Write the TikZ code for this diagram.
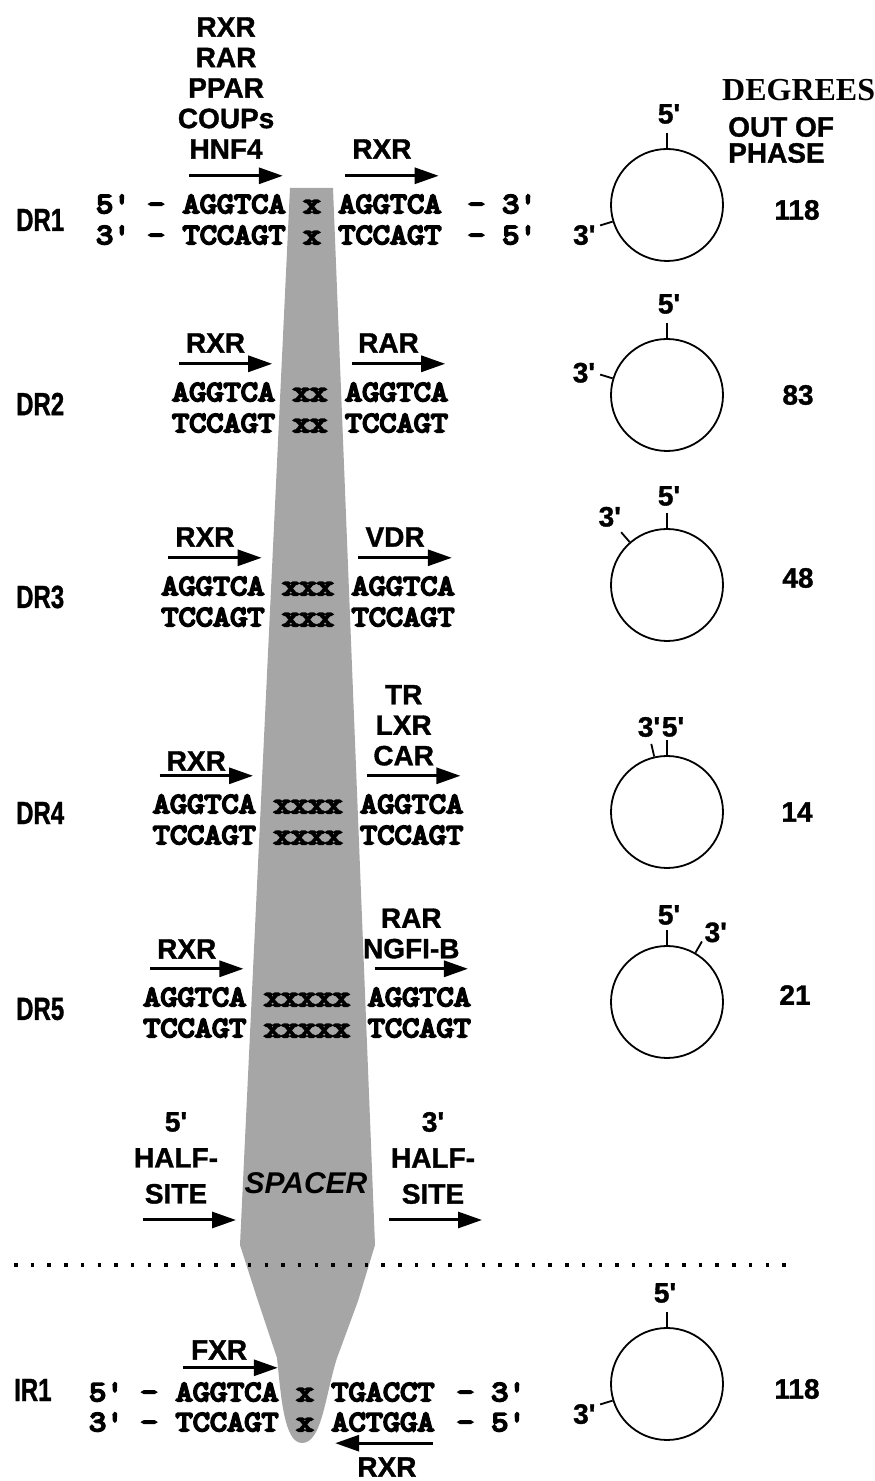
\documentclass[tikz,border=0pt]{standalone}
\usepackage{fontspec}
\usepackage{graphicx}
\usepackage{tikz}
\usetikzlibrary{arrows.meta,positioning}
\newfontfamily\labelfamily{Liberation Sans}[BoldFeatures={FakeBold=1.2}]
\newfontfamily\seqfamily{Latin Modern Mono}[FakeStretch=1.15,FakeBold=7]
\newfontfamily\degfamily{Liberation Serif}
\definecolor{spacergray}{HTML}{A6A6A6}
\newcommand{\labeltext}{\fontsize{28}{30.5}\selectfont\labelfamily\bfseries}
\newcommand{\halftext}{\fontsize{28}{36}\selectfont\labelfamily\bfseries}
\newcommand{\spacertext}{\fontsize{30}{32}\selectfont\labelfamily\bfseries\itshape}
\newcommand{\seqtext}{\fontsize{29}{31}\selectfont\seqfamily}
\newcommand{\rowtext}{\fontsize{32}{34}\selectfont\labelfamily\bfseries}
\newcommand{\degtext}{\fontsize{32}{34}\selectfont\degfamily\bfseries}

\begin{document}
\begin{tikzpicture}[x=1pt,y=1pt,
    seq/.style={font=\seqtext,inner sep=0pt,text height=16pt,text depth=0pt},
    lbl/.style={font=\labeltext,inner sep=0pt,align=center},
    rowname/.style={font=\rowtext,inner sep=0pt,anchor=west},
    halfarrow/.style={-{Triangle[length=24pt,width=16pt]},line width=3pt},
    ring/.style={circle,draw,line width=1.8pt,minimum size=112pt,inner sep=0pt},
    tickline/.style={line width=1.8pt}]
\useasboundingbox (0,0) rectangle (875,1481);

% spacer band and divider
\fill[spacergray] (290,1293) -- (333,1293) -- (375,236) -- (358,180) -- (337,123)
  .. controls (325,85) and (322,38) .. (302,38) .. controls (284,38) and (281,85) .. (277,123)
  -- (258,180) -- (240,236) -- cycle;
\draw[line width=3.5pt,dash pattern=on 3.5pt off 13.2pt] (14,216) -- (790,216);

% header
\node[font=\degtext,inner sep=0pt,anchor=west] (hd1) at (722,1391) {DEGREES};
\node[lbl,anchor=west] (hd2) at (728,1354) {OUT OF};
\node[lbl,anchor=west] (hd3) at (728,1328) {PHASE};

% DR1
\node[seq] (sp1) at (312,1276) {x};
\node[seq,left=17.4pt of sp1] (hl1) {AGGTCA};
\node[seq,right=17.4pt of sp1] (hr1) {AGGTCA};
\node[seq,left=17.4pt of hl1] (el1) {5' -};
\node[seq,right=26pt of hr1] (er1) {- 3'};
\node[seq] (sp1b) at (312,1245) {x};
\node[seq,left=17.4pt of sp1b] (hl1b) {TCCAGT};
\node[seq,right=17.4pt of sp1b] (hr1b) {TCCAGT};
\node[seq,left=17.4pt of hl1b] (el1b) {3' -};
\node[seq,right=26pt of hr1b] (er1b) {- 5'};
\draw[halfarrow] ([xshift=7pt,yshift=21pt]hl1.north west) -- ([xshift=-3pt,yshift=21pt]hl1.north east);
\draw[halfarrow] ([xshift=7pt,yshift=21pt]hr1.north west) -- ([xshift=-3pt,yshift=21pt]hr1.north east);
\node[lbl,anchor=south] (fl1) at ([xshift=-8pt,yshift=38pt]hl1.north) {RXR\\RAR\\PPAR\\COUPs\\HNF4};
\node[lbl,anchor=south] (fr1) at ([xshift=-8pt,yshift=38pt]hr1.north) {RXR};
\node[rowname] (dr1) at (16,1261) {\scalebox{0.75}[1]{DR1}};
\node[ring] (ph1) at (667,1276) {};
\draw[tickline] (ph1.90) -- ([yshift=15pt]ph1.90);
\draw[tickline] (ph1.197) -- ([shift={(197:13)}]ph1.197);
\node[lbl] (five1) at ([shift={(2,91)}]ph1.center) {5'};
\node[lbl] (three1) at ([shift={(200:88)}]ph1.center) {3'};
\node[lbl] (deg1) at (797,1271) {118};

% DR2
\node[seq] (sp2) at (310,1088) {xx};
\node[seq,left=17.4pt of sp2] (hl2) {AGGTCA};
\node[seq,right=17.4pt of sp2] (hr2) {AGGTCA};
\node[seq] (sp2b) at (310,1057) {xx};
\node[seq,left=17.4pt of sp2b] (hl2b) {TCCAGT};
\node[seq,right=17.4pt of sp2b] (hr2b) {TCCAGT};
\draw[halfarrow] ([xshift=7pt,yshift=21pt]hl2.north west) -- ([xshift=-3pt,yshift=21pt]hl2.north east);
\draw[halfarrow] ([xshift=7pt,yshift=21pt]hr2.north west) -- ([xshift=-3pt,yshift=21pt]hr2.north east);
\node[lbl,anchor=south] (fl2) at ([xshift=-8pt,yshift=32pt]hl2.north) {RXR};
\node[lbl,anchor=south] (fr2) at ([xshift=-8pt,yshift=32pt]hr2.north) {RAR};
\node[rowname] (dr2) at (16,1077) {\scalebox{0.75}[1]{DR2}};
\node[ring] (ph2) at (667,1086) {};
\draw[tickline] (ph2.90) -- ([yshift=15pt]ph2.90);
\draw[tickline] (ph2.163) -- ([shift={(163:13)}]ph2.163);
\node[lbl] (five2) at ([shift={(2,91)}]ph2.center) {5'};
\node[lbl] (three2) at ([shift={(165:86)}]ph2.center) {3'};
\node[lbl] (deg2) at (798,1086) {83};

% DR3
\node[seq] (sp3) at (308,894) {xxx};
\node[seq,left=17.4pt of sp3] (hl3) {AGGTCA};
\node[seq,right=17.4pt of sp3] (hr3) {AGGTCA};
\node[seq] (sp3b) at (308,863) {xxx};
\node[seq,left=17.4pt of sp3b] (hl3b) {TCCAGT};
\node[seq,right=17.4pt of sp3b] (hr3b) {TCCAGT};
\draw[halfarrow] ([xshift=7pt,yshift=21pt]hl3.north west) -- ([xshift=-3pt,yshift=21pt]hl3.north east);
\draw[halfarrow] ([xshift=7pt,yshift=21pt]hr3.north west) -- ([xshift=-3pt,yshift=21pt]hr3.north east);
\node[lbl,anchor=south] (fl3) at ([xshift=-8pt,yshift=32pt]hl3.north) {RXR};
\node[lbl,anchor=south] (fr3) at ([xshift=-8pt,yshift=32pt]hr3.north) {VDR};
\node[rowname] (dr3) at (16,884) {\scalebox{0.75}[1]{DR3}};
\node[ring] (ph3) at (667,896) {};
\draw[tickline] (ph3.90) -- ([yshift=15pt]ph3.90);
\draw[tickline] (ph3.131) -- ([shift={(131:13)}]ph3.131);
\node[lbl] (five3) at ([shift={(2,89)}]ph3.center) {5'};
\node[lbl] (three3) at ([shift={(130:89)}]ph3.center) {3'};
\node[lbl] (deg3) at (798,903) {48};

% DR4
\node[seq] (sp4) at (308,676) {xxxx};
\node[seq,left=17.4pt of sp4] (hl4) {AGGTCA};
\node[seq,right=17.4pt of sp4] (hr4) {AGGTCA};
\node[seq] (sp4b) at (308,645) {xxxx};
\node[seq,left=17.4pt of sp4b] (hl4b) {TCCAGT};
\node[seq,right=17.4pt of sp4b] (hr4b) {TCCAGT};
\draw[halfarrow] ([xshift=7pt,yshift=21pt]hl4.north west) -- ([xshift=-3pt,yshift=21pt]hl4.north east);
\draw[halfarrow] ([xshift=7pt,yshift=21pt]hr4.north west) -- ([xshift=-3pt,yshift=21pt]hr4.north east);
\node[lbl,anchor=south] (fl4) at ([xshift=-8pt,yshift=26pt]hl4.north) {RXR};
\node[lbl,anchor=south] (fr4) at ([xshift=-8pt,yshift=31pt]hr4.north) {TR\\LXR\\CAR};
\node[rowname] (dr4) at (16,668) {\scalebox{0.75}[1]{DR4}};
\node[ring] (ph4) at (667,669) {};
\draw[tickline] (ph4.90) -- ([yshift=15pt]ph4.90);
\draw[tickline] (ph4.103) -- ([shift={(103:13)}]ph4.103);
\node[lbl] (five4) at ([shift={(6,85)}]ph4.center) {5'};
\node[lbl] (three4) at ([shift={(-18,85)}]ph4.center) {3'};
\node[lbl] (deg4) at (797,669) {14};

% DR5
\node[seq] (sp5) at (307,483) {xxxxx};
\node[seq,left=17.4pt of sp5] (hl5) {AGGTCA};
\node[seq,right=17.4pt of sp5] (hr5) {AGGTCA};
\node[seq] (sp5b) at (307,452) {xxxxx};
\node[seq,left=17.4pt of sp5b] (hl5b) {TCCAGT};
\node[seq,right=17.4pt of sp5b] (hr5b) {TCCAGT};
\draw[halfarrow] ([xshift=7pt,yshift=21pt]hl5.north west) -- ([xshift=-3pt,yshift=21pt]hl5.north east);
\draw[halfarrow] ([xshift=7pt,yshift=21pt]hr5.north west) -- ([xshift=-3pt,yshift=21pt]hr5.north east);
\node[lbl,anchor=south] (fl5) at ([xshift=-8pt,yshift=31pt]hl5.north) {RXR};
\node[lbl,anchor=south] (fr5) at ([xshift=-8pt,yshift=31pt]hr5.north) {RAR\\NGFI-B};
\node[rowname] (dr5) at (16,472) {\scalebox{0.75}[1]{DR5}};
\node[ring] (ph5) at (667,479) {};
\draw[tickline] (ph5.90) -- ([yshift=15pt]ph5.90);
\draw[tickline] (ph5.60) -- ([shift={(60:13)}]ph5.60);
\node[lbl] (five5) at ([shift={(2,87)}]ph5.center) {5'};
\node[lbl] (three5) at ([shift={(55:85)}]ph5.center) {3'};
\node[lbl] (deg5) at (795,486) {21};

% half-sites and spacer
\node[font=\halftext,inner sep=0pt,align=center] (k5) at (176,323) {5'\\HALF-\\SITE};
\node[font=\halftext,inner sep=0pt,align=center] (k3) at (433,323) {3'\\HALF-\\SITE};
\node[font=\spacertext,inner sep=0pt] (spc) at (306,298) {SPACER};
\coordinate (k5a) at (143,261);
\coordinate (k5b) at (236,261);
\coordinate (k3a) at (389,261);
\coordinate (k3b) at (482,261);
\draw[halfarrow] (k5a) -- (k5b);
\draw[halfarrow] (k3a) -- (k3b);

% IR1
\node[seq] (sp6) at (305,88) {x};
\node[seq,left=17.4pt of sp6] (hl6) {AGGTCA};
\node[seq,right=17.4pt of sp6] (hr6) {TGACCT};
\node[seq,left=17.4pt of hl6] (el6) {5' -};
\node[seq,right=22pt of hr6] (er6) {- 3'};
\node[seq] (sp6b) at (305,58) {x};
\node[seq,left=17.4pt of sp6b] (hl6b) {TCCAGT};
\node[seq,right=17.4pt of sp6b] (hr6b) {ACTGGA};
\node[seq,left=17.4pt of hl6b] (el6b) {3' -};
\node[seq,right=22pt of hr6b] (er6b) {- 5'};
\draw[halfarrow] ([xshift=8pt,yshift=17pt]hl6.north west) -- ([xshift=-1pt,yshift=17pt]hl6.north east);
\draw[halfarrow] ([xshift=-2pt,yshift=-12pt]hr6b.south east) -- ([xshift=4pt,yshift=-12pt]hr6b.south west);
\node[lbl,anchor=south] (fl6) at ([xshift=-8pt,yshift=25pt]hl6.north) {FXR};
\node[lbl,anchor=north] (fr6) at ([xshift=4pt,yshift=-26pt]hr6b.south) {RXR};
\node[rowname] (ir1) at (14,91) {\scalebox{0.75}[1]{IR1}};
\node[ring] (ph6) at (667,97) {};
\draw[tickline] (ph6.90) -- ([yshift=15pt]ph6.90);
\draw[tickline] (ph6.197) -- ([shift={(197:13)}]ph6.197);
\node[lbl] (five6) at ([shift={(-2,91)}]ph6.center) {5'};
\node[lbl] (three6) at ([shift={(200:88)}]ph6.center) {3'};
\node[lbl] (deg6) at (797,92) {118};
\end{tikzpicture}
\end{document}
